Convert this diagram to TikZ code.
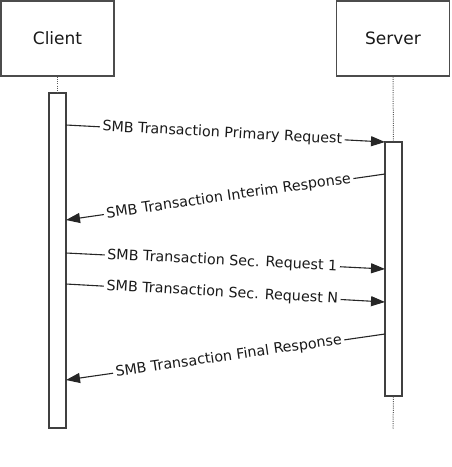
\documentclass[tikz,border=0pt]{standalone}
\usepackage{fontspec}
\setmainfont{DejaVu Sans}
\usetikzlibrary{arrows.meta}
\begin{document}
\begin{tikzpicture}[x=1pt,y=-1pt,
 actor/.style={draw=black!70, line width=1.4pt, fill=white, minimum width=113pt, minimum height=75pt, inner sep=0pt, font=\fontsize{17}{20}\selectfont, text=black!90},
 bar/.style={draw=black!75, line width=1.4pt, fill=white, minimum width=17pt, inner sep=0pt},
 life/.style={draw=black!65, line width=1pt, dash pattern=on 1pt off 1.2pt},
 msg/.style={draw=black!85, line width=1.1pt, -{Triangle[length=14pt,width=10pt]}},
 lbl/.style={pos=0.49, sloped, fill=white, inner sep=2.5pt, font=\fontsize{14.3}{17}\selectfont, text=black!90}]
\useasboundingbox (0,0) rectangle (451,467);
\node[actor] (client) at (57.5,38.5) {Client};
\node[actor] (server) at (393,38.5) {Server};
\coordinate (sdotend) at (393,429);
\node[bar, minimum height=335pt] (cbar) at (57.5,260.5) {};
\node[bar, minimum height=254pt] (sbar) at (393.5,269) {};
\draw[life] (client.south) -- (cbar.north);
\draw[life] (server.south) -- (sbar.north);
\draw[life] (sbar.south) -- (sdotend);
\coordinate (a1) at (66,125); \coordinate (b1) at (385,142);
\coordinate (a2) at (385,174); \coordinate (b2) at (66,220);
\coordinate (a3) at (66,253); \coordinate (b3) at (385,269);
\coordinate (a4) at (66,284); \coordinate (b4) at (385,302);
\coordinate (a5) at (385,334); \coordinate (b5) at (66,380);
\draw[msg] (a1) -- node[lbl] (l1) {SMB Transaction Primary Request} (b1);
\draw[msg] (a2) -- node[lbl] (l2) {SMB Transaction Interim Response} (b2);
\draw[msg] (a3) -- node[lbl] (l3) {SMB Transaction Sec. Request 1} (b3);
\draw[msg] (a4) -- node[lbl] (l4) {SMB Transaction Sec. Request N} (b4);
\draw[msg] (a5) -- node[lbl] (l5) {SMB Transaction Final Response} (b5);
\end{tikzpicture}
\end{document}
